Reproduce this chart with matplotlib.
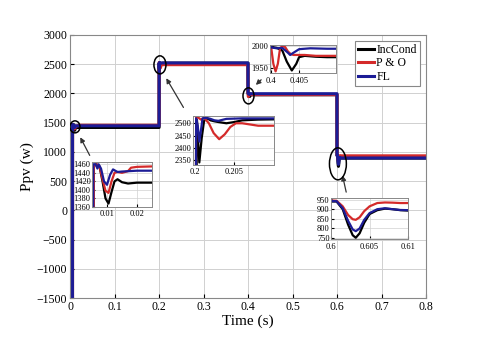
import numpy as np
import matplotlib
matplotlib.use('Agg')
import matplotlib.pyplot as plt
from matplotlib.patches import Ellipse

plt.rcParams['font.family'] = ['Liberation Serif', 'DejaVu Serif']

# ---- data ----
t_inc = [0.0, 0.0055, 0.0056, 0.0065, 0.0075, 0.0085, 0.0095, 0.0105, 0.0115, 0.0125, 0.0135, 0.015, 0.017, 0.020, 0.025,
         0.2001, 0.2003, 0.2006, 0.2009, 0.2012, 0.2016, 0.202, 0.2025, 0.203, 0.204, 0.205, 0.206, 0.208, 0.21,
         0.3999, 0.4, 0.401, 0.402, 0.4028, 0.4037, 0.4045, 0.405, 0.406, 0.408, 0.41,
         0.5999, 0.6, 0.6007, 0.6015, 0.6022, 0.6028, 0.6032, 0.6037, 0.6043, 0.605, 0.606, 0.607, 0.608, 0.609, 0.61, 0.8]
p_inc = [-1600, -1600, 1458, 1460, 1455, 1420, 1380, 1368, 1395, 1420, 1425, 1418, 1415, 1417, 1417,
         1417, 2515, 2340, 2440, 2510, 2520, 2512, 2508, 2505, 2500, 2505, 2512, 2515, 2516,
         2516, 1998, 1996, 1990, 1965, 1945, 1960, 1975, 1978, 1976, 1975,
         1976, 940, 940, 900, 820, 765, 752, 775, 830, 875, 895, 903, 900, 895, 893, 893]

t_po = [0.0, 0.0055, 0.0056, 0.0065, 0.0075, 0.0085, 0.0095, 0.0105, 0.0115, 0.0125, 0.0135, 0.015, 0.017, 0.018, 0.020, 0.025,
        0.2001, 0.2002, 0.2004, 0.2008, 0.2012, 0.2018, 0.2024, 0.2031, 0.2038, 0.2045, 0.2052, 0.206, 0.207, 0.208, 0.21,
        0.3999, 0.4, 0.4004, 0.4008, 0.4012, 0.4016, 0.402, 0.4025, 0.403, 0.4035, 0.404, 0.406, 0.408, 0.41,
        0.5999, 0.6, 0.6007, 0.6015, 0.6022, 0.6028, 0.6032, 0.6037, 0.6043, 0.605, 0.606, 0.607, 0.608, 0.609, 0.61, 0.8]
p_po = [-1600, -1600, 1455, 1460, 1455, 1425, 1398, 1393, 1420, 1440, 1442, 1440, 1444, 1452, 1454, 1455,
        1455, 2525, 2525, 2515, 2522, 2500, 2460, 2435, 2455, 2485, 2500, 2500, 2495, 2490, 2490,
        2490, 1998, 1960, 1943, 1960, 1995, 2000, 1998, 1988, 1982, 1980, 1980, 1978, 1978,
        1978, 945, 944, 915, 870, 848, 845, 858, 890, 915, 932, 935, 934, 932, 932, 932]

t_fl = [0.0, 0.0053, 0.0054, 0.0062, 0.0068, 0.0072, 0.0080, 0.0090, 0.0100, 0.0110, 0.0120, 0.0135, 0.015, 0.020, 0.025,
        0.2001, 0.2002, 0.2004, 0.2006, 0.2008, 0.201, 0.2015, 0.202, 0.2025, 0.203, 0.2035, 0.204, 0.206, 0.21,
        0.3999, 0.4, 0.401, 0.402, 0.403, 0.4034, 0.404, 0.405, 0.407, 0.41,
        0.5999, 0.6, 0.6007, 0.6015, 0.6022, 0.6028, 0.6032, 0.6037, 0.6043, 0.605, 0.606, 0.607, 0.608, 0.609, 0.61, 0.8]
p_fl = [-1600, -1600, 1460, 1460, 1450, 1460, 1450, 1420, 1412, 1435, 1448, 1442, 1443, 1445, 1445,
        1445, 2520, 2490, 2425, 2470, 2520, 2522, 2518, 2512, 2510, 2514, 2518, 2520, 2520,
        2520, 1997, 1995, 1996, 1985, 1980, 1985, 1993, 1995, 1994,
        1994, 942, 942, 905, 840, 795, 786, 800, 845, 880, 900, 905, 900, 896, 895, 895]

labels = ['IncCond', 'P & O', 'FL']
colors = ['black', '#d42a2a', '#1c1c96']

series = [(t_inc, p_inc), (t_po, p_po), (t_fl, p_fl)]

fig = plt.figure(figsize=(4.8, 3.45), dpi=100)
ax = fig.add_axes([0.146, 0.136, 0.7415, 0.763])

for (t, p), c, lab in zip(series, colors, labels):
    ax.plot(t, p, color=c, lw=2.2, label=lab)

ax.set_xlim(0, 0.8)
ax.set_ylim(-1500, 3000)
ax.set_xticks(np.arange(0, 0.81, 0.1))
ax.set_xticklabels(['0', '0.1', '0.2', '0.3', '0.4', '0.5', '0.6', '0.7', '0.8'])
ax.set_yticks(np.arange(-1500, 3001, 500))
ax.tick_params(direction='in', labelsize=8.5, length=3, pad=2)
ax.grid(True, color='#d0d0d0', lw=0.7)
ax.set_axisbelow(True)
for s in ax.spines.values():
    s.set_color('#888888')
ax.set_xlabel('Time (s)', fontsize=11, labelpad=1)
ax.set_ylabel('Ppv (w)', fontsize=11, labelpad=2)

leg = ax.legend(loc='upper right', fontsize=8.5, handlelength=1.3, handletextpad=0.2,
                borderpad=0.3, labelspacing=0.1, fancybox=False, framealpha=1)
leg.get_frame().set_edgecolor('#888888')
leg.get_frame().set_linewidth(0.8)

# ellipses and arrows
ell = [(0.011, 1427, 0.0225, 205), (0.202, 2487, 0.027, 308),
       (0.401, 1957, 0.0247, 274), (0.602, 795, 0.038, 547)]
for x, y, w, h in ell:
    ax.add_patch(Ellipse((x, y), w, h, fill=False, ec='black', lw=1.1, zorder=5))

arrows = [((0.047, 897), (0.020, 1291)), ((0.258, 1718), (0.213, 2299)),
          ((0.434, 2265), (0.413, 2111)), ((0.622, 265), (0.611, 641))]
for tail, head in arrows:
    ax.annotate('', xy=head, xytext=tail,
                arrowprops=dict(arrowstyle='-|>', color='#333333', lw=0.9, mutation_scale=7))

# insets
insets = [
    ([0.1917, 0.400, 0.125, 0.130], (0.005, 0.025), (1360, 1465), [0.01, 0.02], ['0.01', '0.02'], np.arange(1360, 1461, 20)),
    ([0.402, 0.522, 0.169, 0.142], (0.1998, 0.21), (2330, 2530), [0.2, 0.205], ['0.2', '0.205'], np.arange(2350, 2501, 50)),
    ([0.5625, 0.788, 0.1375, 0.081], (0.3998, 0.4116), (1939, 2002), [0.4, 0.405], ['0.4', '0.405'], [1950, 2000]),
    ([0.690, 0.307, 0.160, 0.119], (0.6, 0.61), (745, 958), [0.6, 0.605, 0.61], ['0.6', '0.605', '0.61'], np.arange(750, 951, 50)),
]
for pos, xl, yl, xt, xtl, yt in insets:
    ia = fig.add_axes(pos)
    for (t, p), c in zip(series, colors):
        ia.plot(t, p, color=c, lw=1.6)
    ia.set_xlim(*xl)
    ia.set_ylim(*yl)
    ia.set_xticks(xt)
    ia.set_xticklabels(xtl)
    ia.set_yticks(yt)
    ia.tick_params(direction='in', labelsize=6, length=2, pad=1)
    ia.tick_params(axis='x', pad=2.5)
    ia.grid(True, color='#d0d0d0', lw=0.5)
    for s in ia.spines.values():
        s.set_color('#888888')
        s.set_linewidth(0.7)

fig.savefig('out.png', dpi=100)
